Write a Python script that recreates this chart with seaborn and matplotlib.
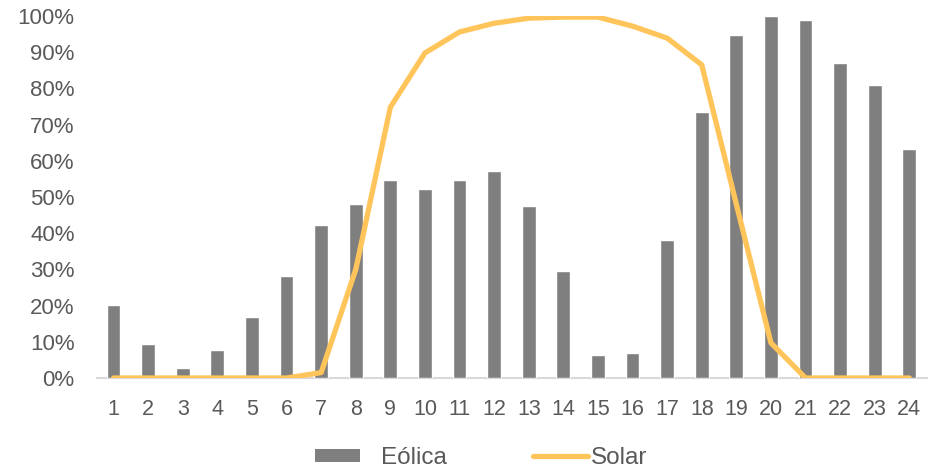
import matplotlib
matplotlib.use("Agg")
import matplotlib.pyplot as plt
import seaborn as sns
import pandas as pd
from matplotlib.patches import Patch
from matplotlib.lines import Line2D
from matplotlib.ticker import PercentFormatter

# Hourly generation profile, share of daily peak
hours = list(range(1, 25))
eolica = [0.202, 0.094, 0.028, 0.077, 0.169, 0.282, 0.423, 0.480, 0.547, 0.522,
          0.547, 0.572, 0.475, 0.296, 0.064, 0.069, 0.381, 0.735, 0.948, 1.000,
          0.989, 0.870, 0.809, 0.633]
solar = [0.0, 0.0, 0.0, 0.0, 0.0, 0.0, 0.015, 0.30, 0.748, 0.898,
         0.956, 0.980, 0.994, 0.997, 0.997, 0.972, 0.939, 0.865, 0.48, 0.097,
         0.0, 0.0, 0.0, 0.0]
series_names = ["Eólica", "Solar"]

df = pd.DataFrame({"hora": hours, "eolica": eolica, "solar": solar})

sns.set_theme(style="white")
plt.rcParams["font.family"] = ["Liberation Sans", "DejaVu Sans"]

text_color = "#595959"
bar_color = "#7F7F7F"
line_color = "#FFC55A"

fig = plt.figure(figsize=(9.36, 4.74), dpi=100)
ax = fig.add_axes([0.1036, 0.2025, 0.8864, 0.7637])

sns.barplot(data=df, x="hora", y="eolica", native_scale=True, width=0.4,
            color=bar_color, saturation=1, ax=ax, zorder=2)
sns.lineplot(data=df, x="hora", y="solar", color=line_color, linewidth=3.8,
             ax=ax, zorder=3)

ax.set_xlim(0.52, 24.5)
ax.set_ylim(0, 1.0)
ax.set_xticks(hours)
ax.set_xticklabels([str(h) for h in hours])
ax.set_yticks([i / 10 for i in range(11)])
ax.yaxis.set_major_formatter(PercentFormatter(1.0, decimals=0))
ax.set_xlabel("")
ax.set_ylabel("")

for side in ["top", "right", "left"]:
    ax.spines[side].set_visible(False)
ax.spines["bottom"].set_color("#D9D9D9")
ax.spines["bottom"].set_linewidth(1.5)
ax.spines["bottom"].set_zorder(1)

ax.tick_params(axis="both", length=0, colors=text_color)
ax.tick_params(axis="y", pad=16, labelsize=16)
ax.tick_params(axis="x", pad=15, labelsize=15.5)

# Legend below the plot: one entry per series
leg_font = 17.5
leg1 = fig.legend(handles=[Patch(facecolor=bar_color, edgecolor="none")],
                  labels=[series_names[0]], loc="center", bbox_to_anchor=(0.407, 0.033),
                  frameon=False, fontsize=leg_font, handlelength=1.85, handleheight=0.41,
                  handletextpad=0.86, labelcolor=text_color)
leg2 = fig.legend(handles=[Line2D([0], [0], color=line_color, linewidth=3.8)],
                  labels=[series_names[1]], loc="center", bbox_to_anchor=(0.630, 0.033),
                  frameon=False, fontsize=leg_font, handlelength=2.3,
                  handletextpad=0.08, labelcolor=text_color)

fig.savefig("out.png", dpi=100)
